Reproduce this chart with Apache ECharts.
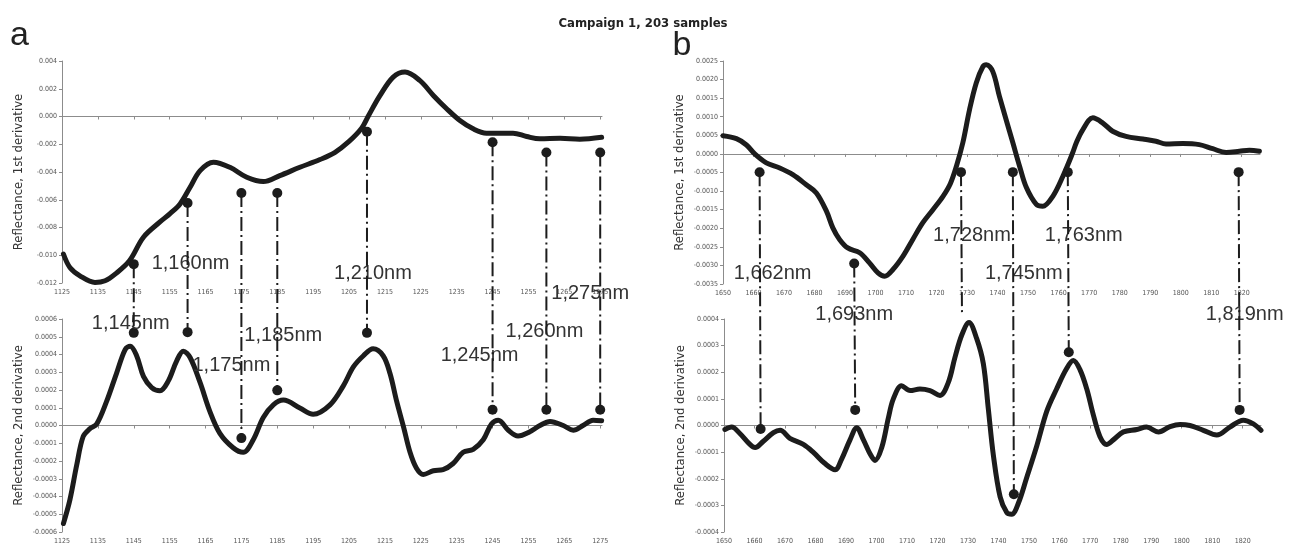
<!DOCTYPE html>
<html>
<head>
<meta charset="utf-8">
<script src="https://cdn.jsdelivr.net/npm/echarts@6/dist/echarts.min.js"></script>
<style>
  html, body { margin: 0; padding: 0; background: #fff; }
  #chart { width: 1289px; height: 545px; }
</style>
</head>
<body>
<div id="chart"></div>
<script>
// ---------- Panel a: 1125–1275 nm ----------
const nmA1 = [1125.4, 1127.2, 1130, 1134.2, 1137, 1139.8, 1143.8, 1147.7, 1152.3, 1155.1, 1157.9, 1160.7,
  1163.5, 1167.2, 1171.8, 1176.5, 1181.1, 1185.7, 1191.3, 1196.9, 1201, 1205, 1208.5, 1210.3,
  1213.6, 1217.3, 1220.6, 1224.7, 1228.5, 1232.2, 1235.9, 1239.6, 1243.3, 1247, 1250.7, 1254.5, 1258.2,
  1263.8, 1269.3, 1275.4];
const firstDerivA = [-0.00991, -0.01088, -0.01148, -0.01196, -0.01184, -0.01136, -0.0104, -0.0087, -0.0076,
  -0.0070, -0.0063, -0.0051, -0.0039, -0.0033, -0.00366, -0.00438, -0.00469, -0.00426, -0.00366, -0.0031,
  -0.0026, -0.0018, -0.00085, 0, 0.0015, 0.00284, 0.0032, 0.0026, 0.00152, 0.00056, -0.00029,
  -0.00089, -0.0012, -0.0012, -0.0012, -0.00144, -0.00161, -0.00157, -0.00164, -0.0015];

const nmA2 = [1125.4, 1127.2, 1129.1, 1130.9, 1132.8, 1134.7, 1137.4, 1140.2, 1142.6, 1144, 1145.8, 1147.7,
  1150, 1152.3, 1154.6, 1157, 1158.8, 1160.7, 1163.5, 1166.2, 1169, 1172.7, 1175.5, 1178.3, 1181.1, 1183.9,
  1186.7, 1191.3, 1195, 1199.7, 1203.4, 1206.2, 1209, 1211.7, 1214.5, 1216.4, 1218.3, 1220.2, 1222, 1223.8,
  1225.7, 1228.5, 1231.2, 1234, 1236.8, 1239.6, 1242.4, 1244.7, 1246.6, 1249.4, 1252.1, 1255.4, 1258.2,
  1261, 1264.7, 1267.5, 1270.2, 1273, 1275.4];
const secondDerivA = [-0.000552, -0.000419, -0.000223, -0.000062, -0.000018, 0.000009, 0.000134, 0.000294,
  0.000428, 0.000446, 0.000393, 0.000277, 0.000214, 0.000196, 0.00025, 0.000366, 0.000419, 0.000383,
  0.000241, 0.00008, -0.000044, -0.000125, -0.000151, -0.00008, 0.000045, 0.000116, 0.000143, 0.000098,
  0.000063, 0.000116, 0.000223, 0.00033, 0.000393, 0.000432, 0.000393, 0.000294, 0.000134, -0.000009,
  -0.000151, -0.000241, -0.000276, -0.000255, -0.000249, -0.000214, -0.000151, -0.000134, -0.00008,
  0.000009, 0.00003, -0.000027, -0.000059, -0.000035, 0, 0.000023, 0, -0.000027, 0, 0.00003, 0.000027];

// Marked wavelengths of panel a, with the marker heights on each curve
const peaksA = [1145, 1160, 1175, 1185, 1210, 1245, 1260, 1275];
const peaksAFirst = [-0.01064, -0.00623, -0.00551, -0.00551, -0.0011, -0.00186, -0.0026, -0.0026];
const peaksASecond = [0.000522, 0.000526, -0.000071, 0.000198, 0.000522, 0.000089, 0.000089, 0.000089];
const peakLabelsA = ['1,145nm', '1,160nm', '1,175nm', '1,185nm', '1,210nm', '1,245nm', '1,260nm', '1,275nm'];

// ---------- Panel b: 1650–1826 nm ----------
const nmB1 = [1650, 1654.4, 1657.7, 1660.4, 1664.2, 1668.6, 1672.9, 1677.3, 1680.6, 1683.9, 1686, 1688.2,
  1690.9, 1694.8, 1698, 1700.8, 1703, 1705.7, 1709, 1712.2, 1715.5, 1718.8, 1722.1, 1724.5, 1726.5, 1728.6,
  1730.8, 1733, 1735.2, 1736.3, 1738.4, 1740.6, 1742.8, 1745, 1747.2, 1749.4, 1752.7, 1754.8, 1758.1,
  1761.4, 1764.6, 1765.8, 1767.9, 1771.2, 1774.5, 1777.7, 1782.1, 1787.6, 1791.9, 1795.2, 1800.7, 1806.1,
  1810.5, 1814.9, 1819.2, 1822.5, 1825.8];
const firstDerivB = [0.00049, 0.00041, 0.00024, 0, -0.00024, -0.00038, -0.00056, -0.00083, -0.00105, -0.00154,
  -0.00199, -0.0023, -0.00253, -0.00266, -0.00293, -0.0032, -0.00329, -0.00311, -0.00275, -0.0023, -0.00185,
  -0.0015, -0.00114, -0.0008, -0.00033, 0.0003, 0.00119, 0.00191, 0.00235, 0.0024, 0.00222, 0.00155, 0.00092,
  0.0003, -0.00033, -0.0009, -0.00136, -0.00141, -0.00114, -0.0006, 0.00003, 0.0003, 0.00065, 0.00097,
  0.00083, 0.00061, 0.00047, 0.0004, 0.00034, 0.00027, 0.00028, 0.00025, 0.00014, 0.00004, 0.00007, 0.0001,
  0.00007];

const nmB2 = [1650.3, 1652.5, 1655.2, 1658.5, 1660.2, 1662.9, 1666.2, 1668.4, 1671.6, 1676, 1679.3, 1683.1,
  1686.4, 1688.6, 1691.3, 1693.5, 1695.7, 1697.9, 1699.5, 1701.7, 1703.9, 1705.5, 1708.2, 1711, 1714.2,
  1717.5, 1720.8, 1723.5, 1725.7, 1727.9, 1730.3, 1732.8, 1735, 1736.6, 1738.3, 1740.5, 1742.7, 1744.3,
  1746.5, 1749.2, 1752.5, 1755.8, 1759, 1762.3, 1764.5, 1766.7, 1768.9, 1771, 1773.2, 1775.4, 1777.6,
  1780.9, 1785.3, 1788.5, 1792.4, 1796.2, 1799.5, 1802.7, 1807.1, 1811.5, 1815.8, 1820.2, 1823.5, 1826];
const secondDerivB = [-0.000015, -0.000006, -0.00003, -0.000071, -0.000083, -0.000059, -0.000027, -0.000018,
  -0.000048, -0.000071, -0.000101, -0.000143, -0.000166, -0.000125, -0.000054, -0.000008, -0.000054,
  -0.000107, -0.000131, -0.000083, 0.00003, 0.0001, 0.000149, 0.000131, 0.000137, 0.000131, 0.000113,
  0.000161, 0.000256, 0.000339, 0.000387, 0.000327, 0.000232, 0.000066, -0.000113, -0.000268, -0.000327,
  -0.000333, -0.000291, -0.000196, -0.000077, 0.000054, 0.000137, 0.000214, 0.000244, 0.000209, 0.000137,
  0.000042, -0.000041, -0.000071, -0.000054, -0.000024, -0.000015, -0.000006, -0.000024, -0.000004,
  0.000004, 0, -0.000018, -0.000036, -0.000006, 0.00002, 0.000006, -0.000018];

const peaksB = [1662, 1693, 1728, 1745, 1763, 1819];
const peaksBFirst = [-0.000495, -0.00295, -0.00049, -0.00049, -0.00049, -0.00049];
const peaksBSecond = [-0.000013, 0.0000586, 0.000419, -0.000258, 0.000275, 0.0000586];
const peakLabelsB = ['1,662nm', '1,693nm', '1,728nm', '1,745nm', '1,763nm', '1,819nm'];

// Wavelength tick marks
const ticksA = [1125, 1135, 1145, 1155, 1165, 1175, 1185, 1195, 1205, 1215, 1225, 1235, 1245, 1255, 1265, 1275];
const ticksB = [1650, 1660, 1670, 1680, 1690, 1700, 1710, 1720, 1730, 1740, 1750, 1760, 1770, 1780, 1790, 1800, 1810, 1820];

const TITLE = 'Campaign 1, 203 samples';
const NAME_FIRST = 'Reflectance, 1st derivative';
const NAME_SECOND = 'Reflectance, 2nd derivative';

// ---------- styling ----------
const NARROW = '"Liberation Sans Narrow","Arial Narrow","DejaVu Sans Condensed",sans-serif';
const SANS = '"Liberation Sans",Arial,Helvetica,sans-serif';
const INK = '#1c1c1c';
const AXIS = '#8c8c8c';

// label placement: [horizontal shift from the marker line, vertical centre] in px
const labelLayoutA = [[-3, 323], [3, 263], [-10, 365], [6, 335], [6, 273], [-13, 355], [-2, 331], [-10, 293]];
const labelLayoutB = [[13, 273], [0, 314], [11, 235], [11, 273], [16, 235], [6, 314]];

const pairs = (xs, ys) => xs.map((x, i) => [x, ys[i]]);

function xAxis(gi, min, max, ticks) {
  return {
    type: 'value', gridIndex: gi, min, max,
    axisLine: { onZero: true, lineStyle: { color: AXIS, width: 1 } },
    axisTick: { customValues: ticks, length: 3, lineStyle: { color: AXIS } },
    axisLabel: { customValues: ticks, fontSize: 7, color: '#555', margin: 6, fontFamily: NARROW,
      formatter: v => String(v) },
    splitLine: { show: false }
  };
}

function yAxis(gi, min, max, step, digits, name) {
  return {
    type: 'value', gridIndex: gi, min, max, interval: step,
    name, nameLocation: 'middle', nameGap: 37,
    nameTextStyle: { fontSize: 13, color: '#333', fontFamily: NARROW },
    axisLine: { show: true, onZero: false, lineStyle: { color: AXIS, width: 1 } },
    axisTick: { show: true, length: 3, lineStyle: { color: AXIS } },
    axisLabel: { fontSize: 7, color: '#555', margin: 5, fontFamily: NARROW,
      formatter: v => Number(v).toFixed(digits) },
    splitLine: { show: false }
  };
}

function curve(idx, data) {
  return {
    type: 'line', xAxisIndex: idx, yAxisIndex: idx, data,
    smooth: 0.35, showSymbol: false, silent: true,
    lineStyle: { color: INK, width: 5, cap: 'round', join: 'round' }, z: 3
  };
}

function dots(idx, data) {
  return {
    type: 'scatter', xAxisIndex: idx, yAxisIndex: idx, data,
    symbolSize: 10, silent: true, itemStyle: { color: INK, opacity: 1 }, z: 6
  };
}

const chart = echarts.init(document.getElementById('chart'), null, { renderer: 'canvas' });

chart.setOption({
  animation: false,
  backgroundColor: '#fff',
  grid: [
    { left: 62, top: 61, width: 540, height: 222 },
    { left: 62, top: 319, width: 540, height: 224 },
    { left: 723, top: 61, width: 537, height: 223 },
    { left: 724, top: 319, width: 537, height: 225 }
  ],
  xAxis: [
    xAxis(0, 1125, 1275.5, ticksA),
    xAxis(1, 1125, 1275.5, ticksA),
    xAxis(2, 1650, 1826, ticksB),
    xAxis(3, 1650, 1826, ticksB)
  ],
  yAxis: [
    yAxis(0, -0.012, 0.004, 0.002, 3, NAME_FIRST),
    yAxis(1, -0.0006, 0.0006, 0.0001, 4, NAME_SECOND),
    yAxis(2, -0.0035, 0.0025, 0.0005, 4, NAME_FIRST),
    yAxis(3, -0.0004, 0.0004, 0.0001, 4, NAME_SECOND)
  ],
  series: [
    curve(0, pairs(nmA1, firstDerivA)),
    curve(1, pairs(nmA2, secondDerivA)),
    curve(2, pairs(nmB1, firstDerivB)),
    curve(3, pairs(nmB2, secondDerivB)),
    dots(0, pairs(peaksA, peaksAFirst)),
    dots(1, pairs(peaksA, peaksASecond)),
    dots(2, pairs(peaksB, peaksBFirst)),
    dots(3, pairs(peaksB, peaksBSecond))
  ]
});

// Dash-dot connectors between the two derivative curves, and wavelength labels
const graphics = [
  { type: 'text', x: 643, y: 24, z: 20, silent: true,
    style: { text: TITLE, fontSize: 13, fontWeight: 'bold', fontFamily: NARROW, fill: '#222',
      align: 'center', verticalAlign: 'middle' } },
  { type: 'text', x: 19.5, y: 36, z: 20, silent: true,
    style: { text: 'a', fontSize: 34, fontFamily: SANS, fill: '#222', align: 'center', verticalAlign: 'middle' } },
  { type: 'text', x: 682, y: 46, z: 20, silent: true,
    style: { text: 'b', fontSize: 34, fontFamily: SANS, fill: '#222', align: 'center', verticalAlign: 'middle' } }
];

function connectors(nms, topVals, botVals, gTop, gBot, labels, layout) {
  nms.forEach((nm, i) => {
    const p1 = chart.convertToPixel({ gridIndex: gTop }, [nm, topVals[i]]);
    const p2 = chart.convertToPixel({ gridIndex: gBot }, [nm, botVals[i]]);
    graphics.push({
      type: 'line', z: 12, silent: true,
      shape: { x1: p1[0], y1: p1[1], x2: p2[0], y2: p2[1] },
      style: { stroke: INK, lineWidth: 2, lineDash: [14, 4, 2, 4] }
    });
    graphics.push({
      type: 'text', x: p1[0] + layout[i][0], y: layout[i][1], z: 11, silent: true,
      style: { text: labels[i], fontSize: 20, fontFamily: SANS, fill: '#333',
        align: 'center', verticalAlign: 'middle' }
    });
  });
}

connectors(peaksA, peaksAFirst, peaksASecond, 0, 1, peakLabelsA, labelLayoutA);
connectors(peaksB, peaksBFirst, peaksBSecond, 2, 3, peakLabelsB, labelLayoutB);

chart.setOption({ graphic: graphics });
</script>
</body>
</html>
